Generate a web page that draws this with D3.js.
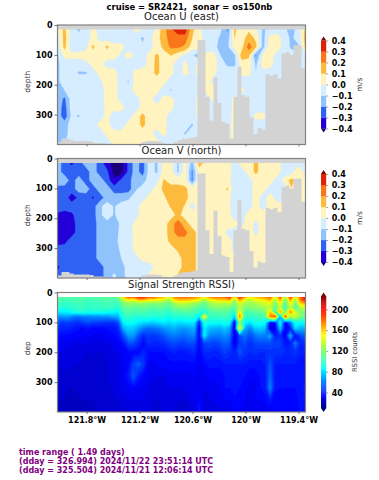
<!DOCTYPE html>
<html>
<head>
<meta charset="utf-8">
<script src="https://cdn.jsdelivr.net/npm/d3@7/dist/d3.min.js"></script>
<style>
  body { margin: 0; background: #fff; }
  text { font-family: "DejaVu Sans", sans-serif; }
</style>
</head>
<body>
<svg id="chart" width="379" height="480"></svg>
<script>
// tick labels and levels
const lonTicks = [-121.8, -121.2, -120.6, -120, -119.4];
const depthTicks = [0, 100, 200, 300];
const velLevels = [-40, -30, -20, -10, 0, 10, 20, 30, 40];   // cm/s
const velColors = ["#2400d8", "#2f62f2", "#90c2fb", "#d6edff", "#fff3bf", "#fdbb3e", "#f9761a", "#dd2206"];
const velUnder = "#1a0078";
const velOver = "#7d0000";
const rssiTicks = [40, 80, 120, 160, 200];
const jetStops = [0, 0.11, 0.35, 0.5, 0.65, 0.89, 1];
const jetColors = ["#00007f", "#0000ff", "#00ffff", "#7dff7a", "#ffff00", "#ff0000", "#7f0000"];
const infoLines = ["time range ( 1.49 days)",
  "(dday = 326.994) 2024/11/22 23:51:14 UTC",
  "(dday = 325.504) 2024/11/21 12:06:14 UTC"];

// sampled on the velocity bins: 36 longitudes, 14 depths, cm/s
const velDepths = [15, 44, 73, 102, 131, 160, 189, 218, 247, 276, 305, 334, 363, 392];
const uGrid = [
  [  3, 12, -5,-12, -5,  2, -2, -5, -5, -5, -5,  2,  0,-10,  3, 16, 28, 36, 36, 12,  4,-10, -5, -8,-22, 12,  2,  8,  2,-12, -6, -5, -8,-14, -6, 12],
  [ -5, 14, -5, -6, -5,  3, -2, -5, -5, -5, -5, -4,-12, -3,  6, 15, 25, 25, 25, 10,  4, -5, -5,-12,-16, 10,  5, 15,  8,-14,  3,  5, -5,-12, -6, 14],
  [ -5, 13, -7, -5, -3, 12,  3, 12,  3,  3, -4, -5, -8, -3,  3, 13, 22, 22, 18,  5,  3, -6, -8,-12,-12,  4,  6, 25, 12,-14,  5,  5, -4,-12,-12, 12],
  [-12,  3,  3,  3,  4,  5,  5,  4,  3, -2,  4, -2, -4,  3, 12,  5, 10,  3, -2, -8,-18,  3,  5,-10,-12,-12, 15, 12,-22,  3,  5, -5, -6, -6, -5, -5],
  [-12, -5, -5, -5, -3,  3,  3, -4, -3, -4, -5, -5, -4,  3, 13,  4,  3, -5,  2, -6,  2,  5,  5, -5,-12,-12,  5,  5,-12,  4,  3, -5, -5, -5, -5, -5],
  [-12, -5, -5,-11,-11, -5,  4,  5,  3, -5, -5,  3,  4,  4, 13,  4,  3, -5,  3, -3,  3,  5,  3, -5, -5, -5,  2,  3,-10, -3, -4, -5, -5, -5, -5, -5],
  [-12, -5, -5, -5, -5, -5, -2,  5,  4, -5,-11,  3,  2,  4,  4,  3, -5, -5, -5, -5, -4,  4, -3, -5, -5, -5, -4, -5, -5, -5, -5, -5, -5, -5, -5, -5],
  [-14,-10, -5, -5, -5, -5, -5,  4,  4, -5, -5,  4,  4,  3,  4, -5,-11, -5, -5, -5, -5,  3,  3, -5, -5, -5,  3, -5, -5, -5, -5, -5, -5, -5, -5, -5],
  [-14,-22, -5, -5, -5, -5, -5,  4,  4, -4, -5, -5,  3,  3, -5,  3,  3, -5, -5, -5,  3, -5,  3, -5, -5,  3, -5, -5, -5, -5, -5, -5, -5, -5, -5, -5],
  [-14,-25, -5, -5, -5, -5, -5,  3,  3,  4, -5, -5,  3,  4,  3,  3,  3, -5, -5, -5,  3, -5, -5, -5, -5,  3,  3, -5, -5, -5, -5, -5, -5, -5, -5, -5],
  [-14,-26, -8,-11, -5, -5, -5,  3, -5, -5, -5,  4, 13,  4,  3,  3, -5, -5, -5, -5,  3, -5, -5, -5, -5,  4,  3, -5,  3,  3, -5, -5, -5, -5, -5, -5],
  [-12,-15, -5, -5, -5, -5,  3,  3, -5, -5,  3,  4, 13,  4,  4,  3, -5, -5, -5,-11, -5, -5, -5, -5, -5,  5, -5, -5, -5, -5, -5, -5, -5, -5, -5, -5],
  [-12,-14, -5, -5, -5, -5, -5,  3,  3,  3,  3,  4,  4,  3, -4,  3, -5, -5,-11, -5, -5, -5, -5, -5, -5,  5, -5, -5, -5, -5, -5, -5, -5, -5, -5, -5],
  [-11,-11, -5, -5, -5, -5, -5, -3,  3,  4,  3,  4,  5,  3,  3, -5, -5, -5, -5, -5, -5, -5, -5, -5, -5,  4, -5, -5, -5, -5, -5, -5, -5, -5, -5, -5]
];
const vGrid = [
  [-15,-25,-32,-25,-15,-15,-25,-36,-45,-45,-28,-15,-25, -5,-12,  5,  5,-12,  5,-15, 15,  5,  5,  5,  5, -5,  5,  5, 12,  5,  5,  5, -5, -5, -5, -5],
  [-15,-25,-25,-25,-25,-15,-25,-28,-45,-45,-28,-15,-25, -5,-12,  5,  3,-12,  5,-22,  5,  5,  5,  5,  5, -5, -5,  5, 12,  5,  5,  5, -5, -5, 10, -5],
  [-12,-13,-25,-15,-25,-15,-15,-25,-38,-28,-25,-12,-15, -5, -5, 11,  5,  5,  5,-22,  5,  5,  5,  5,  5, -8, -8, -5,  5,  5,  5, -5,  3, 14,  5,  5],
  [-25,-25,-25,-15,-15,-25,-15,-15,-25,-25,-25,-12, -5, -5,  5, 12, 15, 15, 12,  5,  5,  5,  5,  5, 11, -8, -8, -5,  5,  5, -5, -5, -5,  9,  5,  5],
  [-25,-25,-35,-28,-25,-31,-25,-15,-15,-15,-12, -5, -5,  4,  5,  8, 15, 15, 13,  5,  5,  5,  5,  5,  5, -8, -8, -5,  5, -5,  5, -5, -5,  5,  5,  5],
  [-25,-25,-25,-25,-25,-25,-12, -5,-11, -5, -5, -5,  5,  5,  5,  5, 11, 14,  9, -5,  5,  5,  5,  5,  5, -8, -8, -5,  5, -5,  5,  5,  5,  5,  5,  5],
  [-32,-35,-32,-25,-25,-25,-12, -5,-11, -5, -5, -5,  5,  5,  5,  5,  5, 13,  5,  5,  5,  5,  5,  5,  5, -5, -5,  5,  5,  5,  5,  5,  5,  5,  5,  5],
  [-35,-35,-35,-25,-25,-25,-15,-13,-15, -8, -5,  3,  5,  5,  5,  5, 15, 25, 15,  5,  5,  5,  5,  5,  5,  3, -3,  5, -3,  5,  5,  5,  5,  5,  5,  5],
  [-35,-35,-35,-25,-25,-25,-15,-15,-13, -8, -5,  3,  5,  5,  5,  5, 15, 25, 22, 15,  5,  5,  5,  5, -3, -3,  5,  5, -3,  5,  5,  5,  5,  5,  5,  5],
  [-35,-33,-25,-25,-25,-25,-15,-15,-12, -8, -4,  2,  5,  5,  5,  5, 13, 15, 18, 15,  5,  5,  5,  5,  5, -3,  5,  5,  5,  5,  5,  5,  5,  5,  5,  5],
  [-25,-25,-25,-25,-25,-25,-15,-11,-15, -8, -5,  3,  5,  5,  5,  5,  5, 12, 15, 15,  5,  5,  5,  5,  5, -3,  5,  5,  5,  5,  5,  5,  5,  5,  5,  5],
  [-25,-25,-25,-25,-25,-25,-15,-15,-15,-10, -5, -4,  3,  5,  5,  5,  5,  5, 15, 15,  5,  5,  5,  5,  5,  5,  5,  5,  5,  5,  5,  5,  5,  5,  5,  5],
  [-32,-25,-25,-25,-25,-25,-25,-15,-15,-15, -5, -5, -5, -5,  4,  5,  5,  5, 14, 15,  5,  5,  5,  5,  5,  5,  5,  5,  5,  5,  5,  5,  5,  5,  5,  5],
  [-28,-25,-25,-25,-25,-25,-25,-15, -8,-15, -5, -5, -5,  3,  5,  5,  5, 11, 15, 15,  5,  5,  5,  5,  5,  5,  5,  5,  5,  5,  5,  5,  5,  5,  5,  5]
];

// depth of the last good bin along track, 62 longitudes
const bottomDepth = [392, 380, 380, 385, 388, 388, 388, 388, 390, 395, 395, 395, 398, 400, 400, 400, 400, 400, 400, 400,
  398, 392, 388, 388, 388, 390, 395, 398, 398, 392, 385, 381, 381, 378, 375, 50, 50, 240, 320, 175, 260,
  325, 330, 380, 240, 140, 235, 240, 310, 365, 345, 350, 165, 170, 165, 180, 95, 90, 100, 68, 68, 145];

// RSSI counts, 50 longitudes, 16 depths
const rssiDepths = [15, 25, 35, 50, 65, 80, 100, 120, 145, 170, 200, 240, 280, 320, 360, 395];
const rssiGrid = [
  [112,110,108,108,110,110,108,108,108,110,110,110,114,160,182,178,195,195,182,182,170,165,140,172,180,180,180,175,168,150,172,178,180,180,195,148,195,170,150,162,168,172,182,140,188,125,192,138,182,205],
  [108,105,104,104,106,106,104,105,105,107,108,106,108,135,150,145,160,160,150,150,145,140,128,155,162,162,160,155,148,126,148,152,158,158,165,126,170,146,135,145,150,156,166,126,168,112,170,122,176,200],
  [104,100,100,102,104,104,100,102,102,104,105,102,104,120,126,124,126,126,122,120,124,120,114,128,138,138,134,128,124,113,128,132,136,132,138,118,146,130,126,132,136,140,146,118,150,106,152,116,162,172],
  [ 98, 96, 96, 98,100,102, 98,100,100,102,102,100, 96,110,114,112,112,114,112,110,112,112,106,117,120,120,120,114,110,106,118,120,122,120,118,112,132,122,120,122,126,130,136,112,136,102,136,106,132,138],
  [ 84, 84, 86, 90, 94, 96, 92, 94, 92, 92, 90, 88, 84,104,108,105,105,105,104,100,102,102, 98,105,105,108,108,105,100, 92,105,108,108,110,105, 95,150,105,108,110,112,115,160, 90,170,115,175,140,120,120],
  [ 66, 66, 68, 62, 58, 62, 62, 64, 64, 66, 66, 70, 72, 98,100, 98, 96, 98, 98, 96, 96, 98, 90, 98, 96, 98, 98, 96, 82,150,100,102,100,105,100, 75,175,100,100,100,105,105,175,185, 70,185,130,140,118,115],
  [ 50, 46, 48, 46, 44, 48, 50, 48, 48, 46, 46, 44, 50, 85, 90, 88, 84, 80, 80, 78, 80, 84, 80, 84, 80, 82, 84, 84, 40, 96, 88, 90, 88, 92, 90, 30,120, 88, 80, 92, 92, 88, 35, 40, 88, 35, 60, 90, 88, 90],
  [ 44, 42, 42, 40, 38, 36, 38, 36, 36, 36, 38, 38, 42, 70, 78, 76, 68, 60, 56, 58, 60, 66, 68, 72, 68, 66, 68, 72, 32, 84, 74, 72, 70, 76, 70, 28,150, 70, 62, 76, 78, 75, 30, 32, 75, 35, 40, 80, 72, 72],
  [ 38, 36, 36, 35, 35, 34, 34, 33, 33, 33, 34, 36, 38, 50, 66, 66, 52, 42, 48, 45, 48, 52, 58, 60, 58, 56, 60, 62, 34, 84, 62, 60, 60, 64, 60, 28, 50, 58, 50, 58, 62, 60, 70, 40, 45, 32, 72, 35, 50, 55],
  [ 34, 33, 32, 31, 31, 31, 30, 30, 30, 30, 31, 32, 34, 38, 50, 50, 44, 36, 44, 42, 42, 44, 48, 50, 48, 48, 50, 50, 36, 48, 50, 48, 50, 55, 52, 30, 48, 50, 45, 48, 50, 50, 50, 48, 48, 38, 40, 60, 42, 45],
  [ 31, 31, 30, 30, 29, 29, 28, 28, 28, 28, 29, 30, 32, 33, 36, 36, 36, 42, 37, 37, 37, 37, 39, 41, 39, 39, 41, 43, 34, 43, 43, 41, 43, 47, 45, 40, 52, 45, 43, 45, 43, 43, 45, 44, 45, 43, 43, 45, 41, 41],
  [ 28, 29, 29, 28, 28, 27, 27, 27, 27, 27, 28, 29, 30, 33, 36, 48, 54, 46, 33, 33, 35, 35, 36, 36, 36, 36, 36, 36, 33, 36, 38, 38, 38, 40, 40, 40, 40, 40, 38, 38, 38, 40, 52, 40, 40, 40, 40, 40, 38, 38],
  [ 27, 27, 27, 27, 27, 27, 27, 27, 27, 27, 28, 29, 30, 33, 40, 52, 40, 36, 33, 31, 31, 31, 33, 33, 33, 33, 33, 35, 31, 33, 35, 35, 35, 37, 37, 37, 37, 37, 35, 35, 37, 38, 56, 38, 38, 37, 37, 39, 39, 39],
  [ 27, 25, 25, 25, 27, 27, 27, 27, 27, 27, 27, 29, 30, 33, 34, 36, 34, 33, 31, 30, 30, 30, 31, 31, 31, 31, 33, 33, 31, 31, 33, 33, 33, 37, 37, 39, 37, 35, 33, 33, 37, 38, 62, 38, 37, 37, 37, 37, 39, 41],
  [ 25, 25, 23, 23, 23, 25, 25, 25, 25, 27, 27, 27, 28, 30, 30, 31, 31, 31, 30, 28, 28, 28, 30, 30, 28, 28, 30, 32, 36, 30, 30, 32, 32, 34, 34, 36, 36, 34, 32, 34, 34, 36, 40, 34, 36, 36, 36, 36, 38, 40],
  [ 23, 23, 23, 23, 23, 23, 23, 23, 25, 25, 25, 25, 27, 27, 28, 28, 28, 28, 28, 26, 26, 28, 28, 28, 26, 26, 28, 30, 40, 28, 28, 30, 30, 32, 32, 34, 34, 32, 32, 32, 32, 32, 34, 34, 34, 34, 34, 34, 38, 40]
];

const margin = { left: 57.5, right: 305.5 };
const plotHeight = 119.5;
const panels = [
  { title: "Ocean U (east)", grid: uGrid, top: 25, ylabel: "depth" },
  { title: "Ocean V (north)", grid: vGrid, top: 158.5, ylabel: "depth" },
  { title: "Signal Strength RSSI)", grid: rssiGrid, top: 292.5, ylabel: "dep" }
];

const x = d3.scaleLinear().domain([-122.13, -119.32]).range([margin.left, margin.right]);
const lonFormat = d => Math.abs(d) + "\u00b0W";

const jet = d3.scaleLinear().domain(jetStops).range(jetColors).clamp(true);
const rssiNorm = d3.scaleLinear().domain([10, 225]);
const rssiColor = v => jet(rssiNorm(v));

const svg = d3.select("#chart");

svg.append("text")
  .attr("x", 189.5).attr("y", 9.5)
  .attr("text-anchor", "middle")
  .attr("font-size", 8.4).attr("font-weight", "bold")
  .style("white-space", "pre")
  .text("cruise = SR2421,  sonar = os150nb");

svg.append("defs").selectAll("clipPath")
  .data(panels).enter().append("clipPath")
  .attr("id", (d, i) => "clip" + i)
  .append("rect")
  .attr("x", margin.left).attr("y", d => d.top)
  .attr("width", margin.right - margin.left).attr("height", plotHeight);

// filled contours of a grid, grid index mapped back to lon/depth
function drawContours(g, grid, depths, levels, colorFor, y) {
  let nCol = grid[0].length, nRow = grid.length;
  let colX = d3.scaleLinear().domain([0.5, nCol - 0.5]).range(x.domain());
  let rowY = d3.scaleLinear().domain(depths.map((d, i) => i + 0.5)).range(depths);
  let project = d3.geoTransform({
    point: function(px, py) { this.stream.point(x(colX(px)), y(rowY(py))); }
  });
  let path = d3.geoPath(project);
  let contours = d3.contours().size([nCol, nRow]).smooth(true).thresholds(levels)(grid.flat());
  g.selectAll(".band").data(contours).enter().append("path")
    .attr("class", "band")
    .attr("d", path)
    .attr("fill", d => colorFor(d.value))
    .attr("stroke", d => colorFor(d.value))
    .attr("stroke-width", 0.3);
}

panels.forEach((p, idx) => {
  let y = d3.scaleLinear().domain([0, 400]).range([p.top, p.top + plotHeight]);
  let g = svg.append("g").attr("class", "panel");
  let body = g.append("g").attr("clip-path", "url(#clip" + idx + ")");

  body.append("rect")
    .attr("x", margin.left).attr("y", p.top)
    .attr("width", margin.right - margin.left).attr("height", plotHeight)
    .attr("fill", idx < 2 ? velUnder : "#fff");

  if (idx < 2) {
    let levels = [-100].concat(velLevels);
    let colorFor = v => v < -40 ? velUnder : v >= 40 ? velOver : velColors[velLevels.indexOf(v)];
    drawContours(body, p.grid, velDepths, levels, colorFor, y);

    // no-data mask under the bottom and above the first bin
    let maskX = d3.scaleLinear().domain([0, bottomDepth.length]).range(x.domain());
    let maskData = bottomDepth.concat(bottomDepth[bottomDepth.length - 1]);
    let mask = d3.area().curve(d3.curveStepAfter)
      .x((d, i) => x(maskX(i)))
      .y0(d => y(d))
      .y1(y(400));
    body.append("path").attr("d", mask(maskData)).attr("fill", "#d3d3d3");
    body.append("rect")
      .attr("x", margin.left).attr("y", y(0))
      .attr("width", margin.right - margin.left).attr("height", y(velDepths[0]) - y(0))
      .attr("fill", "#d3d3d3");
  } else {
    drawContours(body, p.grid, rssiDepths, d3.range(10, 230, 3), rssiColor, y);
    body.append("rect")
      .attr("x", margin.left).attr("y", y(0))
      .attr("width", margin.right - margin.left).attr("height", y(rssiDepths[0]) - y(0))
      .attr("fill", "#fff");
  }

  // frame
  g.append("rect")
    .attr("x", margin.left).attr("y", p.top)
    .attr("width", margin.right - margin.left).attr("height", plotHeight)
    .attr("fill", "none").attr("stroke", "#808080").attr("stroke-width", 1.2);

  let yAxis = d3.axisLeft(y).tickValues(depthTicks).tickSize(3).tickPadding(2);
  let xAxis = d3.axisBottom(x).tickValues(lonTicks).tickSize(2).tickPadding(3).tickFormat(idx == 2 ? lonFormat : "");

  let ay = g.append("g").attr("transform", "translate(" + margin.left + ",0)").call(yAxis);
  let ax = g.append("g").attr("transform", "translate(0," + (p.top + plotHeight) + ")").call(xAxis);
  [ay, ax].forEach(a => {
    a.select(".domain").remove();
    a.selectAll("text").attr("font-size", 8).attr("font-weight", "bold").attr("font-family", "DejaVu Sans").attr("fill", "#000");
    a.selectAll("line").attr("stroke", "#444").attr("stroke-width", 0.7);
  });

  g.append("text")
    .attr("x", (margin.left + margin.right) / 2).attr("y", p.top - 5)
    .attr("text-anchor", "middle").attr("font-size", 10).attr("fill", "#222")
    .text(p.title);

  g.append("text")
    .attr("transform", "translate(30," + (y(0) + plotHeight / 2 - (idx == 2 ? 4 : 3)) + ") rotate(-90)")
    .attr("text-anchor", "middle").attr("font-size", 7.5).attr("fill", "#333")
    .text(p.ylabel);
});

// colorbars
const barX = 321, barW = 5.2;
function velColorbar(top) {
  let cy = d3.scaleLinear().domain([-40, 40]).range([top + 88, top]);
  let g = svg.append("g");
  g.selectAll("rect").data(velColors).enter().append("rect")
    .attr("x", barX).attr("width", barW)
    .attr("y", (d, i) => cy(velLevels[i + 1]))
    .attr("height", (d, i) => cy(velLevels[i]) - cy(velLevels[i + 1]) + 0.2)
    .attr("fill", d => d);
  triangles(g, cy(40), cy(-40), velOver, velUnder);
  let axis = d3.axisRight(cy).tickValues(velLevels).tickSize(2).tickPadding(3.5)
    .tickFormat(d => d3.format(".1f")(d / 100).replace("-", "\u2212"));
  let a = g.append("g").attr("transform", "translate(" + (barX + barW) + ",0)").call(axis);
  axisStyle(a);
  g.append("text")
    .attr("transform", "translate(360," + (top + 44) + ") rotate(-90)")
    .attr("text-anchor", "middle").attr("font-size", 7.5).attr("fill", "#333")
    .attr("dominant-baseline", "middle")
    .text("m/s");
}
function triangles(g, top, bottom, over, under) {
  g.append("path").attr("d", d3.line()([[barX, top], [barX + barW / 2, top - 4], [barX + barW, top]]) + "Z").attr("fill", over);
  g.append("path").attr("d", d3.line()([[barX, bottom], [barX + barW / 2, bottom + 4], [barX + barW, bottom]]) + "Z").attr("fill", under);
}
function axisStyle(a) {
  a.select(".domain").remove();
  a.selectAll("text").attr("font-size", 8).attr("font-weight", "bold").attr("font-family", "DejaVu Sans").attr("fill", "#000");
  a.selectAll("line").attr("stroke", "#444").attr("stroke-width", 0.5);
}
velColorbar(40.5);
velColorbar(174);

(function rssiColorbar() {
  let cy = d3.scaleLinear().domain([10, 225]).range([408, 296.5]);
  let g = svg.append("g");
  g.selectAll("rect").data(d3.range(10, 225, 2)).enter().append("rect")
    .attr("x", barX).attr("width", barW)
    .attr("y", d => cy(d + 2)).attr("height", d => cy(d) - cy(d + 2) + 0.3)
    .attr("fill", d => rssiColor(d));
  triangles(g, cy(225), cy(10), jet(1), jet(0));
  let a = g.append("g").attr("transform", "translate(" + (barX + barW) + ",0)")
    .call(d3.axisRight(cy).tickValues(rssiTicks).tickSize(2).tickPadding(3.5));
  axisStyle(a);
  g.append("text")
    .attr("transform", "translate(355.5,352) rotate(-90)")
    .attr("text-anchor", "middle").attr("font-size", 6.8).attr("fill", "#333")
    .attr("dominant-baseline", "middle")
    .text("RSSI counts");
})();

svg.selectAll(".info").data(infoLines).enter().append("text")
  .attr("class", "info")
  .attr("x", 19).attr("y", (d, i) => 455 + i * 9)
  .attr("font-size", 8).attr("font-weight", "bold").attr("fill", "#800080")
  .text(d => d);
</script>
</body>
</html>
